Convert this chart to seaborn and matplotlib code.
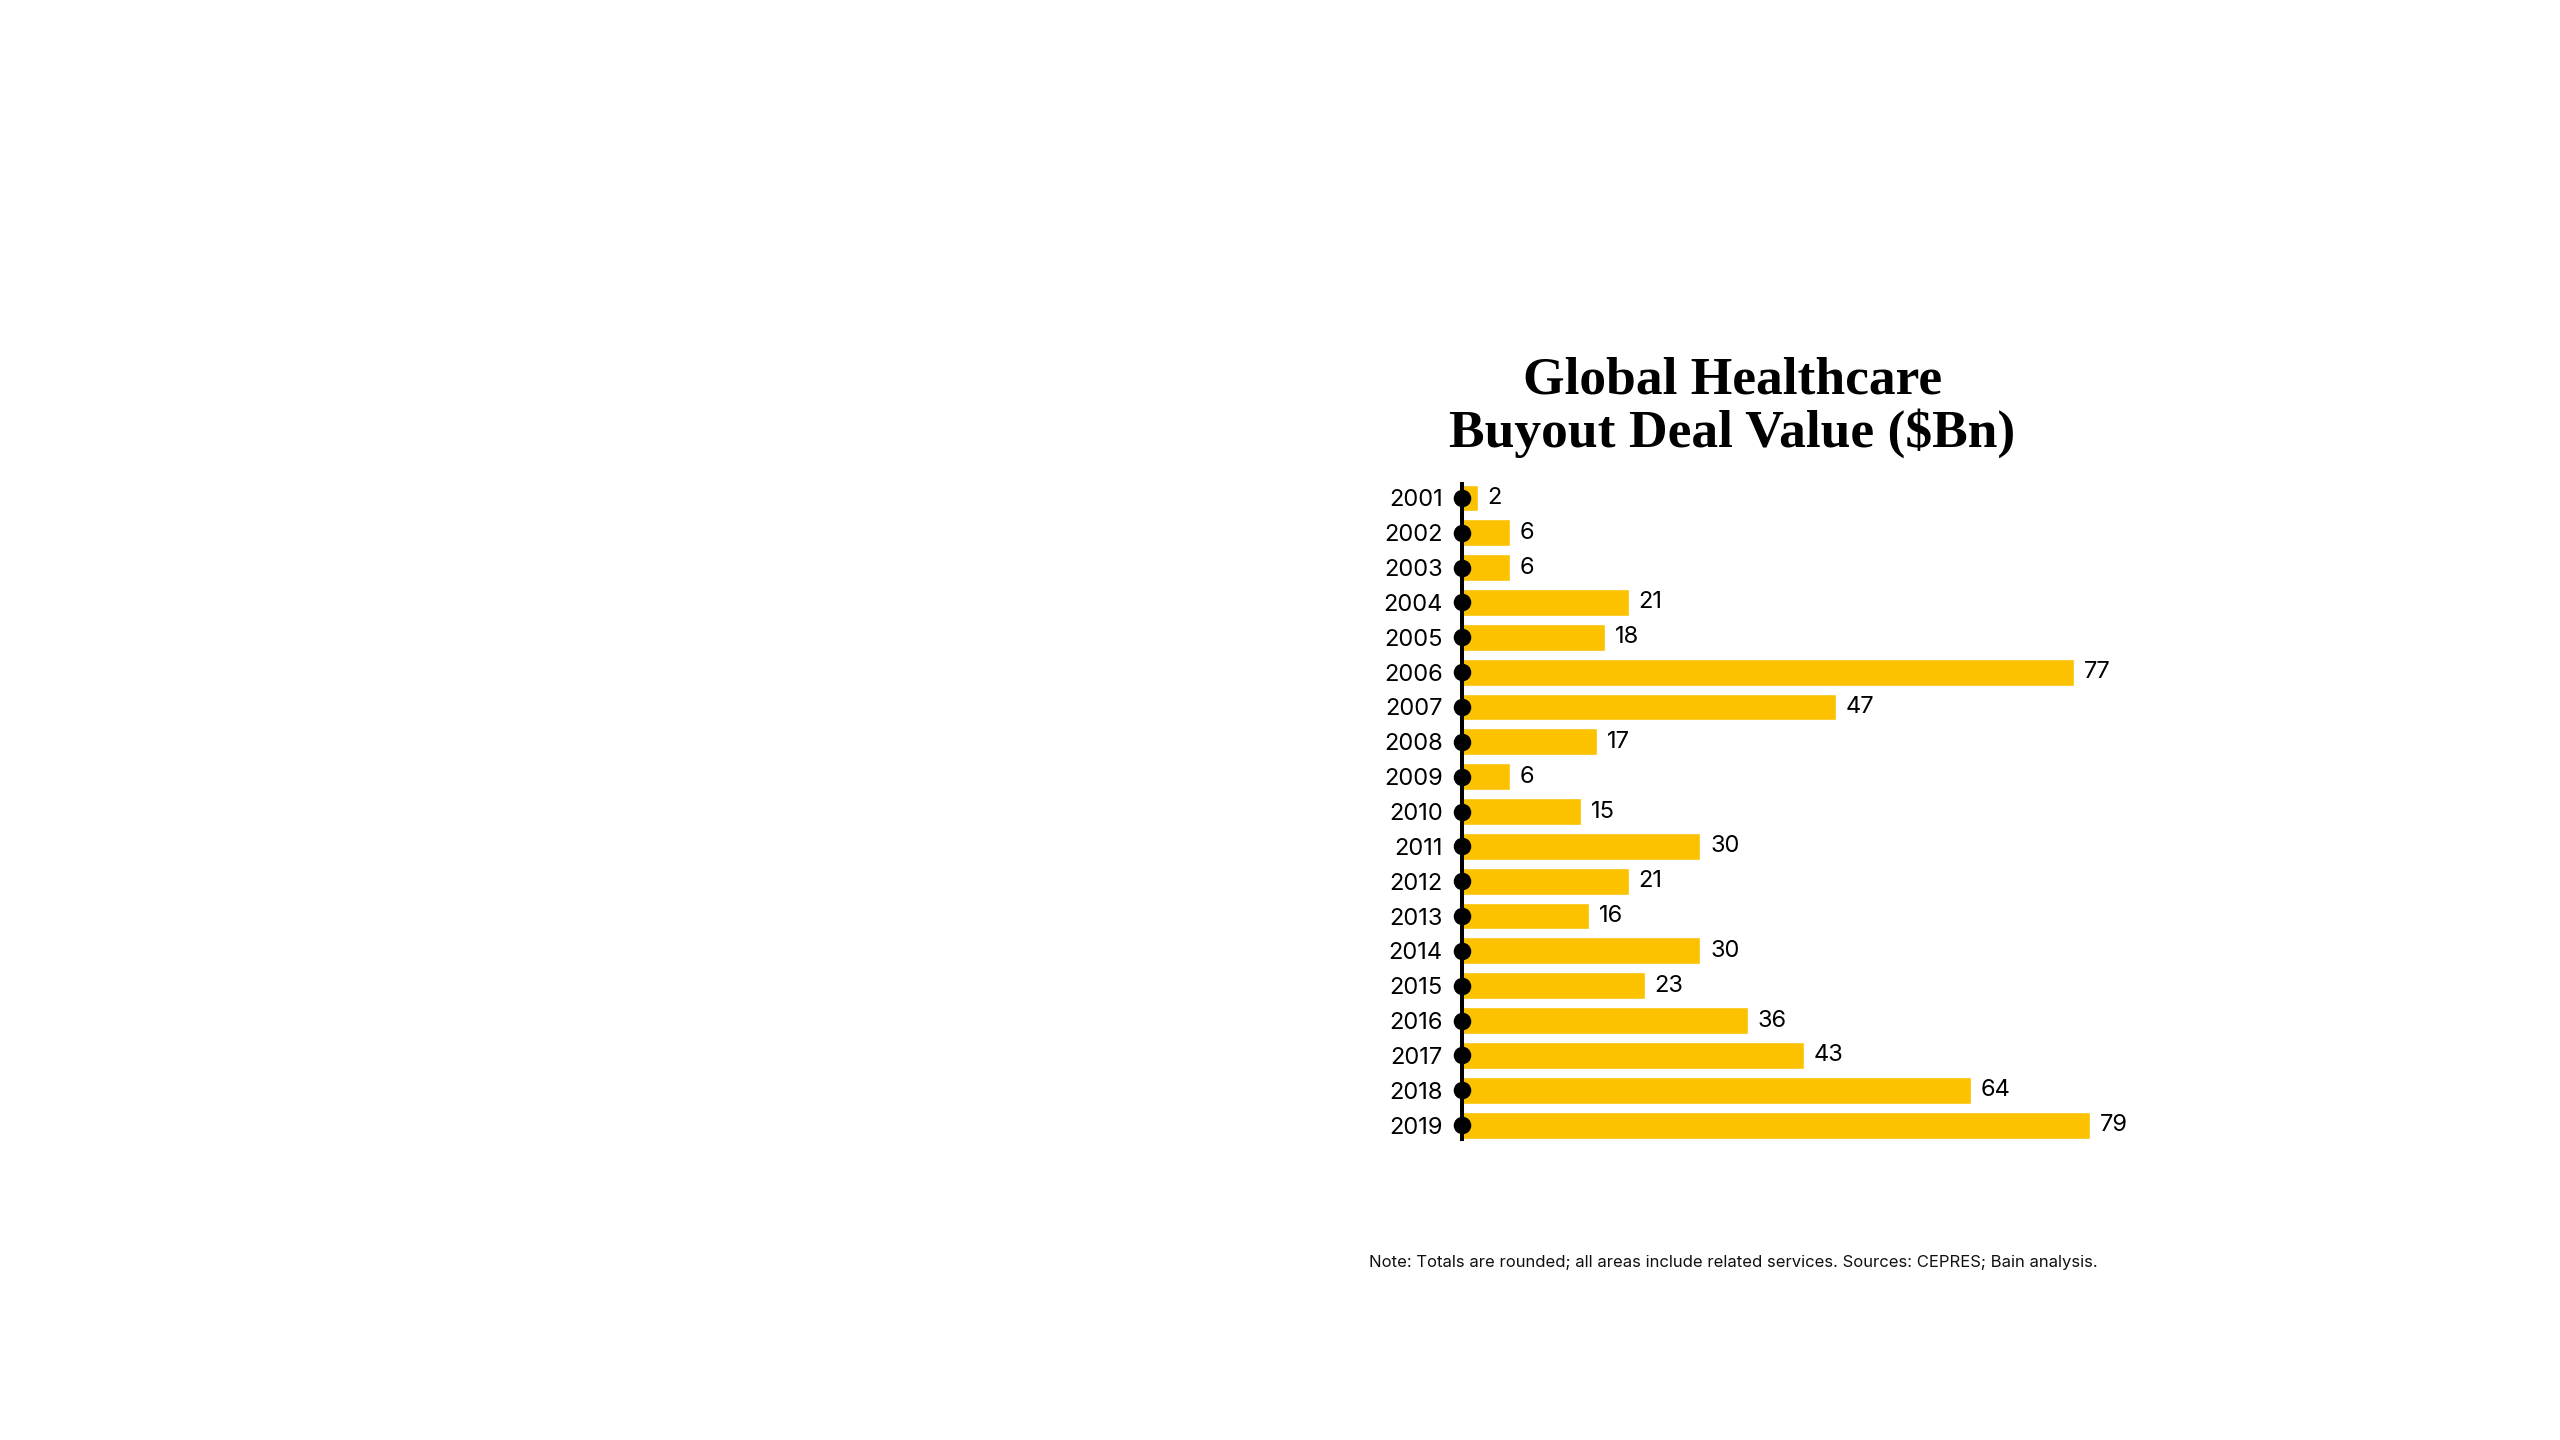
import numpy as np
import pandas as pd
import seaborn as sns
import matplotlib.pyplot as plt

# Duomenys
years = ['2001', '2002', '2003', '2004', '2005', '2006', '2007', '2008', '2009', '2010',
         '2011', '2012', '2013', '2014', '2015', '2016', '2017', '2018', '2019']
deal_value = [2, 6, 6, 21, 18, 77, 47, 17, 6, 15, 30, 21, 16, 30, 23, 36, 43, 64, 79]

title_lines = ['Global Healthcare', 'Buyout Deal Value ($Bn)']
note = 'Note: Totals are rounded; all areas include related services. Sources: CEPRES; Bain analysis.'

bar_color = '#FCC200'

sns.set_style('white')
plt.rcParams['font.family'] = ['Inter', 'DejaVu Sans']
plt.rcParams['text.color'] = 'black'

df = pd.DataFrame({'year': years, 'value': deal_value})

fig = plt.figure(figsize=(25.6, 14.4), dpi=100)
ax = fig.add_axes([0.5711, 0.2090, 0.2794, 0.4549])

sns.barplot(data=df, x='value', y='year', orient='h', color=bar_color,
            saturation=1, width=0.77, ax=ax)

# Taškai ant ašies
ax.scatter(np.zeros(len(years)), np.arange(len(years)), s=135, color='black',
           zorder=5, clip_on=False)

ax.bar_label(ax.containers[0], labels=[str(v) for v in deal_value], padding=7,
             fontsize=17, color='black')

ax.set_xlim(0, 90)
ax.set_ylim(len(years) - 1 + 0.4, -0.4)
ax.set_xlabel('')
ax.set_ylabel('')
ax.set_xticks([])
for side in ['top', 'right', 'bottom']:
    ax.spines[side].set_visible(False)
ax.spines['left'].set_color('black')
ax.spines['left'].set_linewidth(2.9)
ax.tick_params(axis='y', length=0, pad=14, labelsize=17, labelcolor='black')

# Antraštė
fig.text(0.6766, 1 - 393 / 1440, title_lines[0], ha='center', va='baseline',
         fontsize=38.5, fontweight='bold', color='black',
         family=['Liberation Serif', 'DejaVu Serif'])
fig.text(0.6766, 1 - 447 / 1440, title_lines[1], ha='center', va='baseline',
         fontsize=38.5, fontweight='bold', color='black',
         family=['Liberation Serif', 'DejaVu Serif'])

fig.text(1369 / 2560, 1 - 1267 / 1440, note, ha='left', va='baseline',
         fontsize=12, color='#111111')

fig.savefig('out.png', dpi=100)
